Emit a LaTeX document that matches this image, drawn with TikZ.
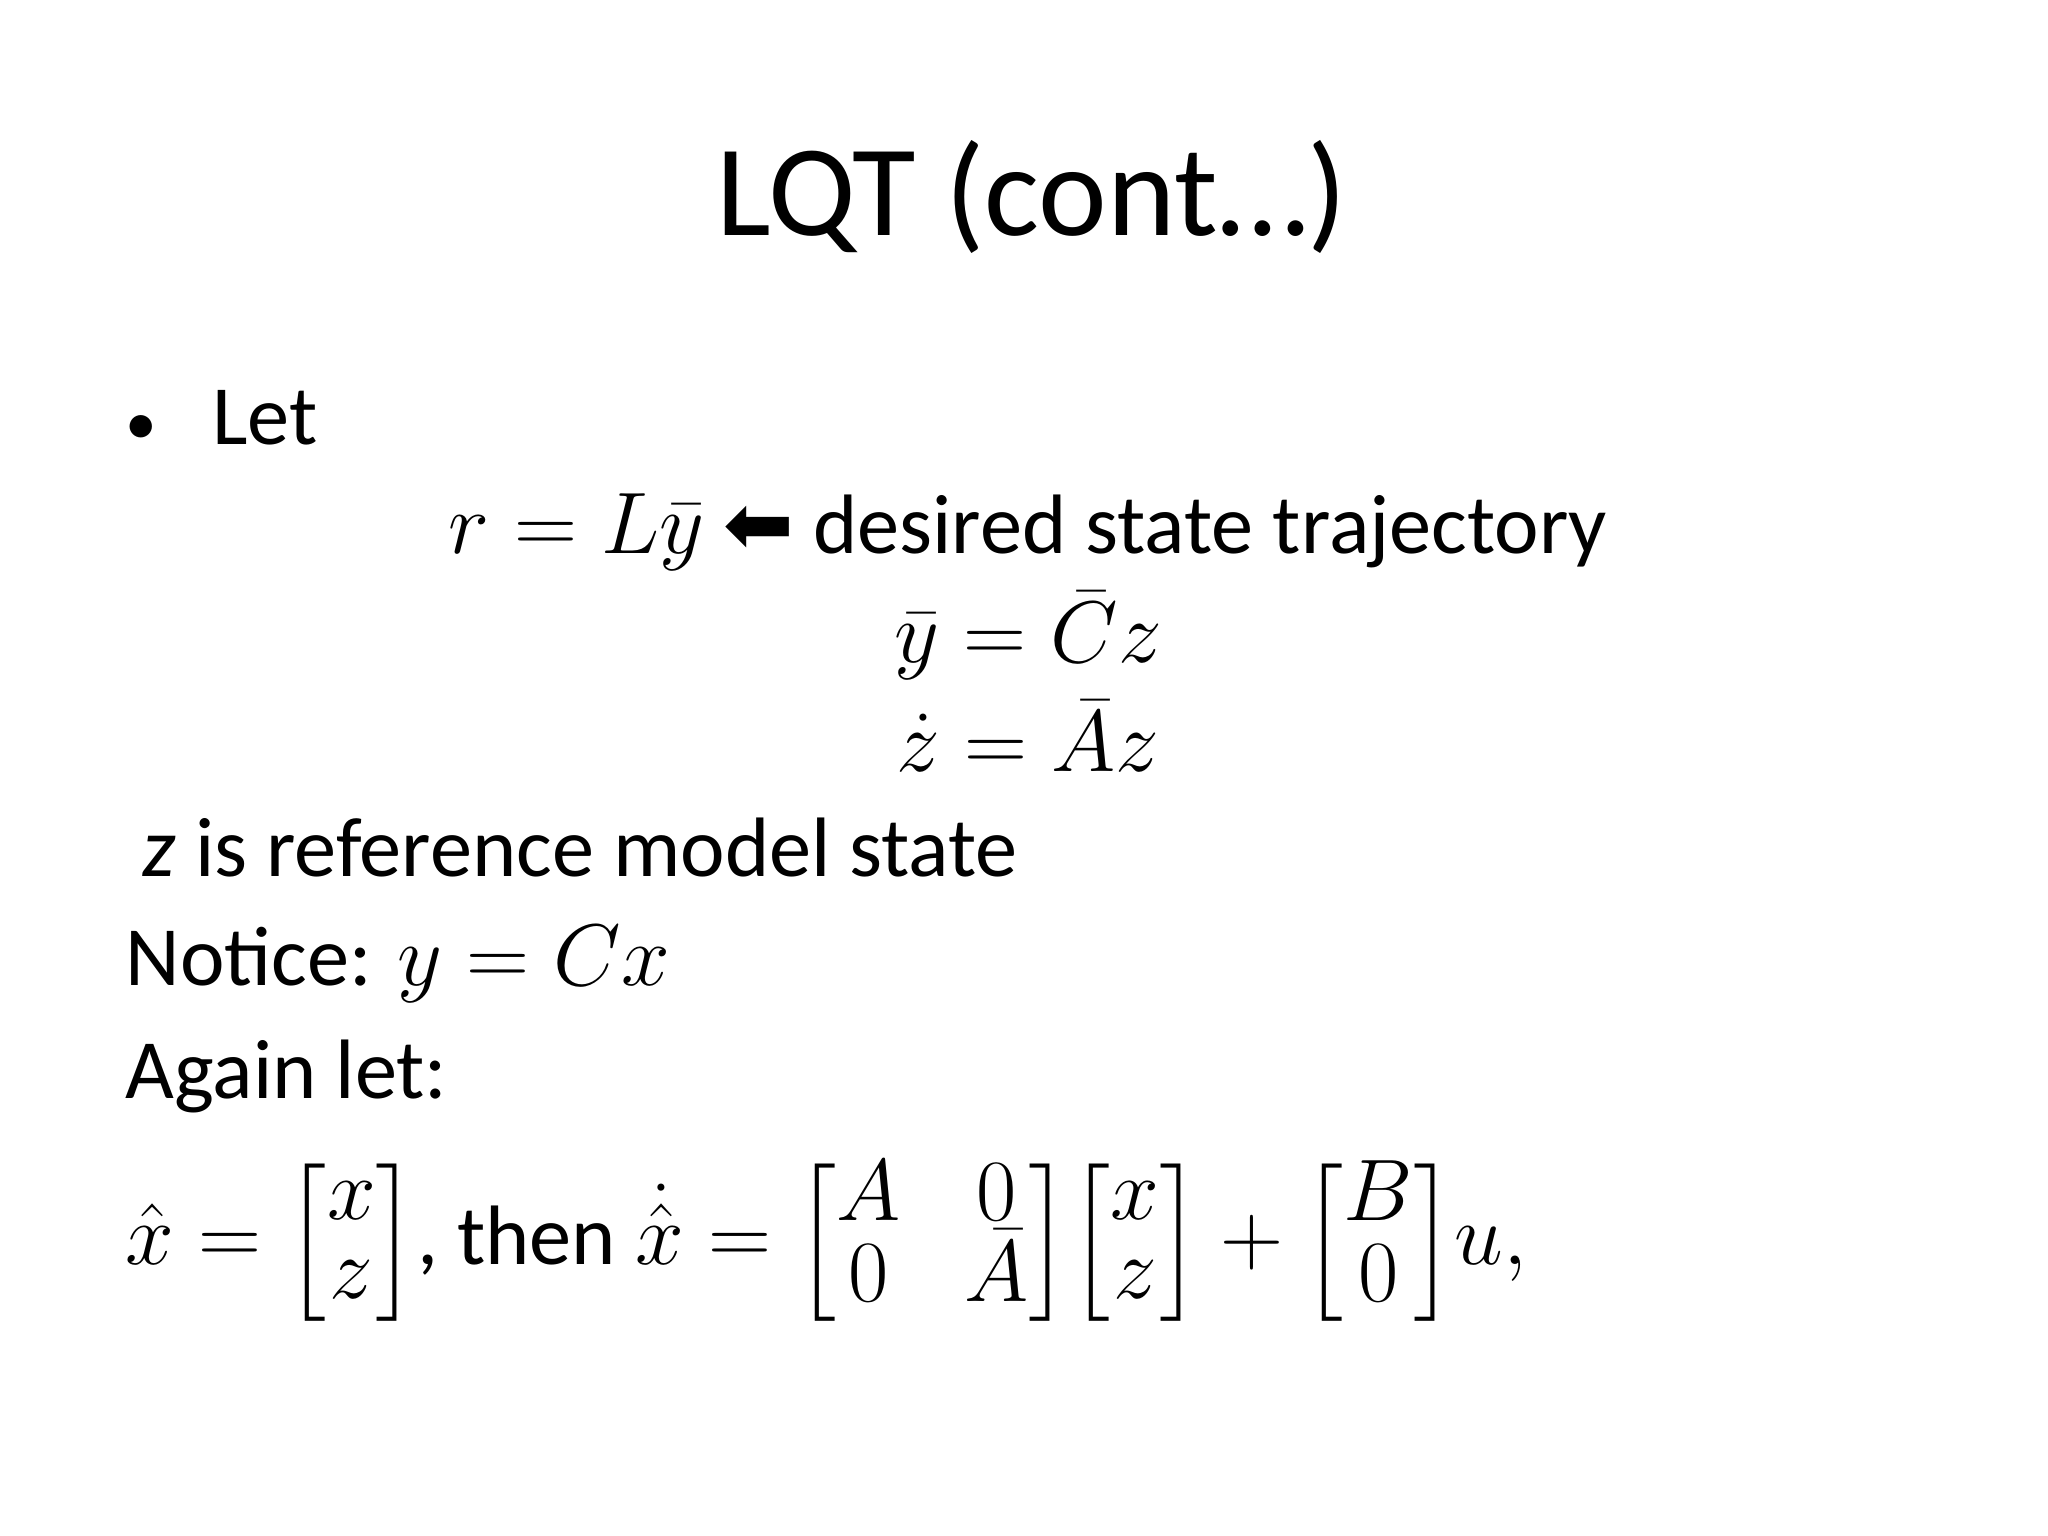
\documentclass[tikz,border=0pt]{standalone}
\usepackage{amsmath}
\usepackage{fontspec}
\setmainfont{Carlito}
\newfontfamily\symfont{DejaVu Sans}
\newcommand{\tightmat}[1]{{\renewcommand\arraystretch{0.78}\setlength\arraycolsep{9pt}\begin{bmatrix}#1\end{bmatrix}}}
\begin{document}
\begin{tikzpicture}[x=1cm,y=1cm,
  txt/.style={inner sep=0pt,font=\fontsize{24}{29}\selectfont},
  ttl/.style={inner sep=0pt,font=\fontsize{37}{44}\selectfont}]
\useasboundingbox (0,0) rectangle (20.48,15.36);
\node[ttl] (title) at (10.32,13.39) {LQT (cont…)};
\node[txt,anchor=west] (let) at (1.25,11.18) {{\fontsize{18}{20}\selectfont\textbullet}\hspace{0.55cm}Let};
\node[txt] (r) at (10.28,10.04) {$r = L\bar{y}$ {\symfont ⬅} desired state trajectory};
\node[txt] (y) at (10.28,9.00) {$\bar{y} = \bar{C}z$};
\node[txt] (z) at (10.28,8.00) {$\dot{z} = \bar{A}z$};
\node[txt,anchor=west] (ref) at (1.42,6.88) {\textit{z} is reference model state};
\node[txt,anchor=west] (notice) at (1.25,5.72) {Notice: $y = Cx$};
\node[txt,anchor=west] (again) at (1.25,4.60) {Again let:};
\node[txt,anchor=west] (mat) at (1.25,2.93) {$\hat{x} = \tightmat{x\\ z}$, then $\dot{\hat{x}} = \tightmat{A & 0\\ 0 & \smash[t]{\bar{A}}}\tightmat{x\\ z} + \tightmat{B\\ 0} u,$};
\end{tikzpicture}
\end{document}
